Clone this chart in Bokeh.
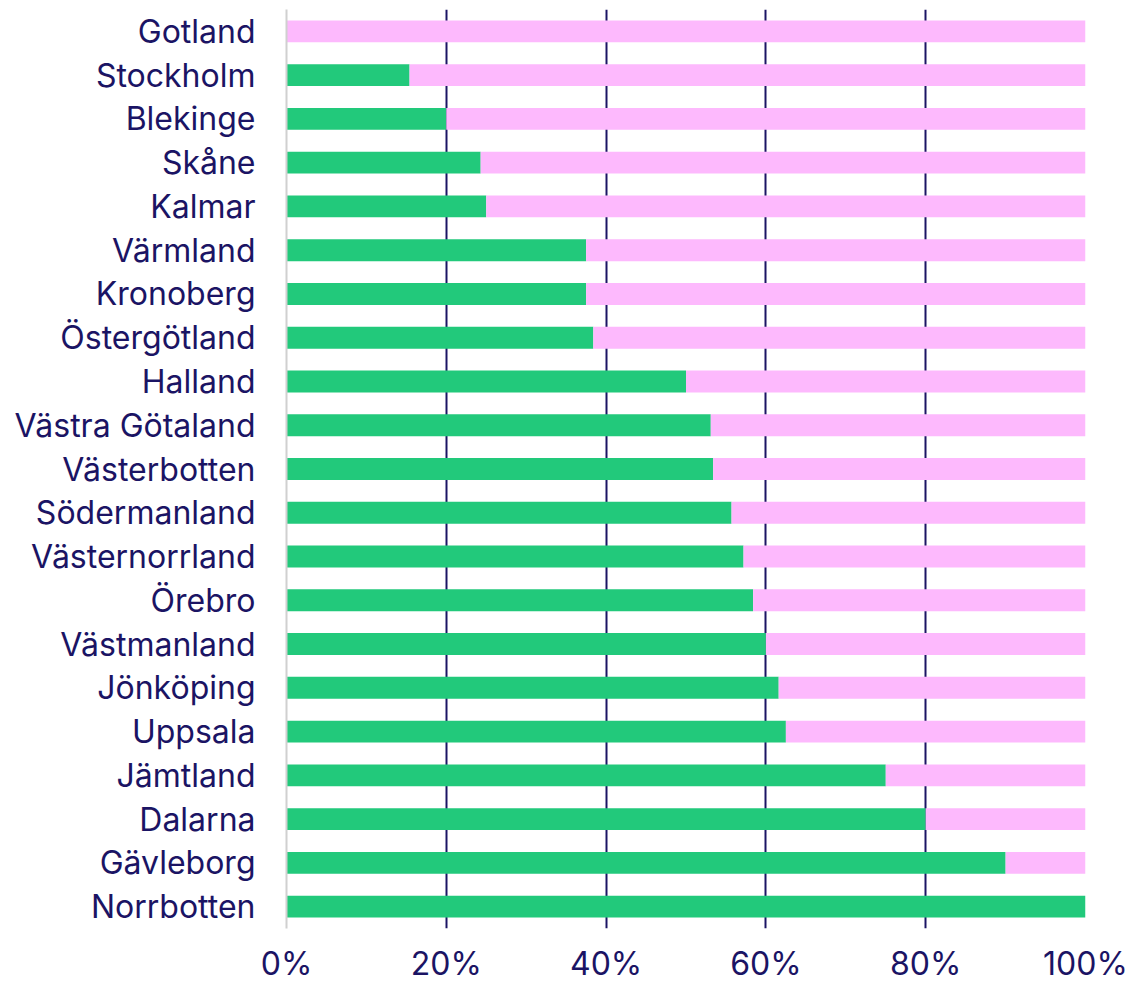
from bokeh.plotting import figure
from bokeh.models import ColumnDataSource, FactorRange, FixedTicker, NumeralTickFormatter, Range1d
from bokeh.embed import file_html
from bokeh.resources import INLINE

regions = ["Gotland", "Stockholm", "Blekinge", "Skåne", "Kalmar", "Värmland", "Kronoberg",
           "Östergötland", "Halland", "Västra Götaland", "Västerbotten", "Södermanland",
           "Västernorrland", "Örebro", "Västmanland", "Jönköping", "Uppsala", "Jämtland",
           "Dalarna", "Gävleborg", "Norrbotten"]
green_share = [0.0, 0.154, 0.20, 0.243, 0.25, 0.375, 0.375, 0.384, 0.50, 0.531, 0.534, 0.557,
               0.572, 0.584, 0.60, 0.616, 0.625, 0.75, 0.80, 0.90, 1.0]
pink_share = [1.0 - g for g in green_share]
x_ticks = [0, 0.2, 0.4, 0.6, 0.8, 1.0]

NAVY = "#1b1464"
GREEN = "#22c97b"
PINK = "#fdb9fd"

src = ColumnDataSource(dict(region=regions, green=green_share, pink=pink_share))

p = figure(width=1128, height=985, output_backend="svg", toolbar_location=None,
           y_range=FactorRange(*list(reversed(regions)), range_padding=0),
           x_range=Range1d(0, 1))
p.min_border_left = 286
p.min_border_right = 43
p.min_border_top = 9
p.min_border_bottom = 57
p.outline_line_color = None

p.hbar_stack(["green", "pink"], y="region", height=0.5, color=[GREEN, PINK],
             line_color=None, source=src)

p.xaxis.ticker = FixedTicker(ticks=x_ticks)
p.xaxis.formatter = NumeralTickFormatter(format="0%")
p.xaxis.axis_line_color = None
p.xaxis.major_tick_line_color = None
p.xaxis.minor_tick_line_color = None
p.xaxis.major_label_standoff = 9
p.xaxis.major_label_text_font = "Inter"
p.xaxis.major_label_text_font_size = "32px"
p.xaxis.major_label_text_color = NAVY

p.yaxis.axis_line_color = "#d0d0d0"
p.yaxis.axis_line_width = 2
p.yaxis.major_tick_line_color = None
p.yaxis.minor_tick_line_color = None
p.yaxis.major_label_standoff = 25
p.yaxis.major_label_text_font = "Inter"
p.yaxis.major_label_text_font_size = "32px"
p.yaxis.major_label_text_color = NAVY

p.ygrid.grid_line_color = None
p.xgrid.ticker = FixedTicker(ticks=[0.2, 0.4, 0.6, 0.8, 1.0])
p.xgrid.grid_line_color = NAVY
p.xgrid.grid_line_width = 2

open("out.html", "w").write(file_html(p, INLINE))
